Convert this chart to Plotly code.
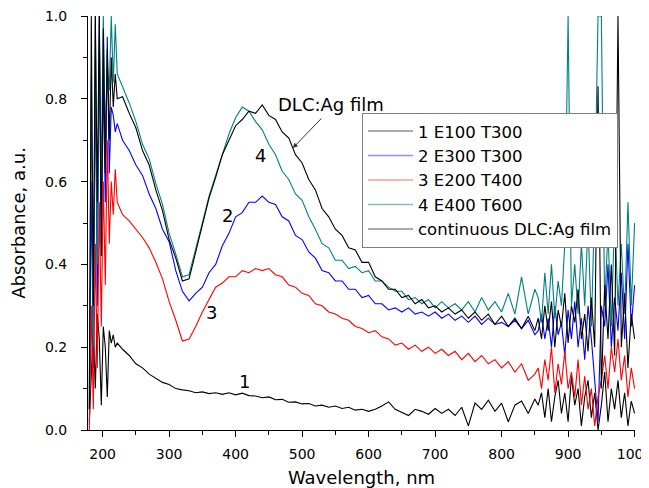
import plotly.graph_objects as go

# Wavelength grid (nm)
wl = ([180, 183, 186, 189, 192, 195, 198, 201, 204, 207, 210, 213, 216, 219, 222]
      + list(range(230, 851, 10)) + list(range(855, 1001, 5)))

s1_E100_T300 = [0.02, 0.12, 0.25, 0.10, 0.28, 0.22, 0.06, 0.25, 0.20, 0.08, 0.24, 0.21, 0.23, 0.20, 0.21,
    0.195, 0.18, 0.16, 0.15, 0.135, 0.125, 0.115, 0.11, 0.10, 0.097,
    0.095, 0.09, 0.092, 0.088, 0.09, 0.086, 0.09, 0.085, 0.089, 0.083,
    0.082, 0.078, 0.08, 0.073, 0.074, 0.067, 0.068, 0.063, 0.064, 0.058,
    0.06, 0.055, 0.058, 0.052, 0.055, 0.048, 0.05, 0.045, 0.05, 0.058,
    0.068, 0.05, 0.042, 0.035, 0.05, 0.045, 0.038, 0.052, 0.04, 0.05,
    0.035, 0.055, 0.01, 0.065, 0.05, 0.072, 0.045, 0.065, 0.02, 0.06,
    0.07, 0.04, 0.075,
    0.06, 0.09, 0.03, 0.10, 0.02, 0.08, 0.12, 0.04, 0.09, 0.02, 0.13, 0.06, 0.10, 0.01, 0.08,
    0.12, 0.03, 0.09, 0.0, 0.06, 0.14, 0.02, 0.10, 0.05, 0.12, 0.03, 0.09, 0.01, 0.07, 0.04]

s2_E300_T300 = [0.05, 0.60, 0.15, 0.90, 0.30, 1.0, 0.45, 0.85, 0.55, 0.95, 0.62, 0.78, 0.76, 0.72, 0.74,
    0.70, 0.675, 0.64, 0.615, 0.57, 0.535, 0.485, 0.455, 0.385, 0.335,
    0.312, 0.33, 0.345, 0.38, 0.40, 0.445, 0.475, 0.515, 0.525, 0.55,
    0.55, 0.565, 0.55, 0.545, 0.515, 0.505, 0.47, 0.46, 0.43, 0.415,
    0.385, 0.38, 0.36, 0.36, 0.34, 0.34, 0.32, 0.325, 0.305, 0.305,
    0.29, 0.295, 0.285, 0.295, 0.28, 0.285, 0.275, 0.285, 0.27, 0.28,
    0.265, 0.275, 0.26, 0.275, 0.255, 0.27, 0.255, 0.26, 0.25, 0.265,
    0.245, 0.265, 0.23,
    0.24, 0.28, 0.22, 0.27, 0.20, 0.30, 0.23, 0.26, 0.18, 0.29, 0.22, 0.31, 0.20, 0.27, 0.17,
    0.30, 0.22, 0.12, 0.02, 0.30, 0.25, 0.40, 0.20, 0.32, 0.24, 0.38, 0.22, 0.45, 0.25, 0.35]

s3_E200_T400 = [0.0, 0.30, 0.05, 0.45, 0.15, 0.55, 0.25, 0.60, 0.35, 0.70, 0.45, 0.60, 0.52, 0.63, 0.55,
    0.52, 0.505, 0.485, 0.465, 0.44, 0.405, 0.365, 0.31, 0.265, 0.215,
    0.22, 0.25, 0.285, 0.315, 0.345, 0.355, 0.37, 0.37, 0.385, 0.38,
    0.39, 0.385, 0.39, 0.375, 0.37, 0.35, 0.345, 0.33, 0.325, 0.305,
    0.30, 0.285, 0.28, 0.27, 0.265, 0.25, 0.245, 0.235, 0.24, 0.225,
    0.22, 0.205, 0.21, 0.195, 0.205, 0.19, 0.2, 0.185, 0.195, 0.18,
    0.19, 0.17, 0.185, 0.165, 0.18, 0.16, 0.17, 0.15, 0.165, 0.14,
    0.16, 0.12, 0.135,
    0.15, 0.10, 0.17, 0.12, 0.20, 0.09, 0.16, 0.11, 0.19, 0.10, 0.14, 0.08, 0.17, 0.06, 0.13,
    0.05, 0.10, 0.01, 0.08, 0.12, 0.18, 0.10, 0.20, 0.14, 0.22, 0.12, 0.18, 0.08, 0.15, 0.10]

s4_E400_T600 = [0.10, 0.85, 0.20, 1.0, 0.40, 0.95, 0.60, 1.0, 0.70, 0.88, 0.82, 1.0, 0.84, 0.98, 0.86,
    0.83, 0.79, 0.745, 0.69, 0.655, 0.595, 0.545, 0.475, 0.425, 0.37,
    0.375, 0.435, 0.50, 0.565, 0.615, 0.67, 0.715, 0.755, 0.78, 0.77,
    0.745, 0.725, 0.69, 0.665, 0.625, 0.605, 0.57, 0.555, 0.515, 0.485,
    0.45, 0.44, 0.41, 0.41, 0.39, 0.395, 0.38, 0.385, 0.36, 0.36,
    0.345, 0.335, 0.335, 0.315, 0.32, 0.305, 0.315, 0.295, 0.31, 0.295,
    0.305, 0.29, 0.31, 0.285, 0.32, 0.29, 0.31, 0.285, 0.33, 0.28,
    0.37, 0.28, 0.34,
    0.32, 0.26, 0.38, 0.28, 0.40, 0.27, 0.36, 0.30, 0.45, 1.0, 0.30, 0.40, 0.28, 0.45, 0.30,
    0.50, 0.25, 0.55, 1.0, 1.0, 0.30, 0.48, 0.25, 0.52, 0.30, 0.45, 0.28, 0.55, 0.30, 0.50]

continuous_film = [0.05, 1.0, 0.30, 1.0, 0.55, 1.0, 0.42, 0.97, 0.62, 0.92, 0.70, 0.90, 0.78, 0.86, 0.80,
    0.805, 0.765, 0.73, 0.675, 0.64, 0.58, 0.53, 0.46, 0.415, 0.36,
    0.365, 0.43, 0.495, 0.56, 0.61, 0.665, 0.70, 0.735, 0.75, 0.77,
    0.765, 0.785, 0.76, 0.75, 0.72, 0.705, 0.665, 0.645, 0.605, 0.58,
    0.535, 0.515, 0.485, 0.47, 0.44, 0.435, 0.405, 0.405, 0.37, 0.36,
    0.34, 0.34, 0.32, 0.325, 0.305, 0.315, 0.295, 0.30, 0.285, 0.295,
    0.28, 0.29, 0.27, 0.285, 0.265, 0.28, 0.255, 0.275, 0.25, 0.27,
    0.245, 0.275, 0.24,
    0.27, 0.22, 0.30, 0.24, 0.31, 0.20, 0.29, 0.25, 0.33, 0.21, 0.30, 0.26, 0.34, 0.22, 0.28,
    0.19, 0.32, 0.20, 0.83, 0.10, 0.35, 0.22, 0.40, 0.18, 1.0, 0.20, 0.33, 0.15, 0.28, 0.22]

names = ["1 E100 T300", "2 E300 T300", "3 E200 T400", "4 E400 T600", "continuous DLC:Ag film"]
series = [s1_E100_T300, s2_E300_T300, s3_E200_T400, s4_E400_T600, continuous_film]
colors = ["#000000", "#0000ff", "#ff0000", "#008080", "#000000"]
legend_colors = ["#8c8c8c", "#8f8fff", "#ff9a9a", "#7fc0c0", "#8c8c8c"]

FONT = "DejaVu Sans"

fig = go.Figure()
for name, ys, c in zip(names, series, colors):
    fig.add_trace(go.Scatter(x=wl, y=ys, mode="lines", name=name, showlegend=False,
                             line=dict(color=c, width=1.1)))
for name, c in zip(names, legend_colors):
    fig.add_trace(go.Scatter(x=[None], y=[None], mode="lines", name=name,
                             line=dict(color=c, width=1.5)))

labels = [("4", 438, 0.662), ("2", 388, 0.517), ("3", 364, 0.283), ("1", 414, 0.116)]
for t, x, y in labels:
    fig.add_annotation(x=x, y=y, text=t, showarrow=False, font=dict(family=FONT, size=18, color="black"))
fig.add_annotation(x=543, y=0.787, text="DLC:Ag film", showarrow=False,
                   font=dict(family=FONT, size=18, color="black"))
fig.add_annotation(x=486, y=0.681, ax=531, ay=0.756, axref="x", ayref="y", text="",
                   showarrow=True, arrowhead=2, arrowsize=1, arrowwidth=1, arrowcolor="#333")

# the page adds an 8 px body margin; the figure is sized to compensate
fig.update_layout(
    width=641, height=480,
    margin=dict(l=80, r=14, t=8, b=58, autoexpand=False),
    paper_bgcolor="white", plot_bgcolor="white",
    font=dict(family=FONT, color="black"),
    legend=dict(x=0.501, y=0.766, xanchor="left", yanchor="top",
                bgcolor="white", bordercolor="#808080", borderwidth=1,
                font=dict(family=FONT, size=16.5), itemwidth=45, tracegroupgap=0),
)
fig.update_xaxes(range=[178, 1000.6], showline=True, linecolor="black", linewidth=1,
                 ticks="outside", ticklen=6, tickcolor="black", dtick=100, tick0=0,
                 tickfont=dict(family=FONT, size=14), showgrid=False, zeroline=False,
                 automargin=False, ticklabeloverflow="allow", ticklabelstandoff=5,
                 minor=dict(dtick=50, tick0=0, ticks="outside", ticklen=4, tickcolor="black"),
                 title=dict(text="Wavelength, nm", font=dict(family=FONT, size=18), standoff=10))
fig.update_yaxes(range=[0, 1.0], showline=True, linecolor="black", linewidth=1,
                 ticks="outside", ticklen=6, tickcolor="black", dtick=0.2, tickformat=".1f",
                 tickfont=dict(family=FONT, size=14), showgrid=False, zeroline=False,
                 automargin=False, ticklabelstandoff=11, ticklabeloverflow="allow",
                 minor=dict(dtick=0.1, ticks="outside", ticklen=4, tickcolor="black"),
                 title=dict(text="Absorbance, a.u.", font=dict(family=FONT, size=18), standoff=14))

fig.write_html("out.html")
